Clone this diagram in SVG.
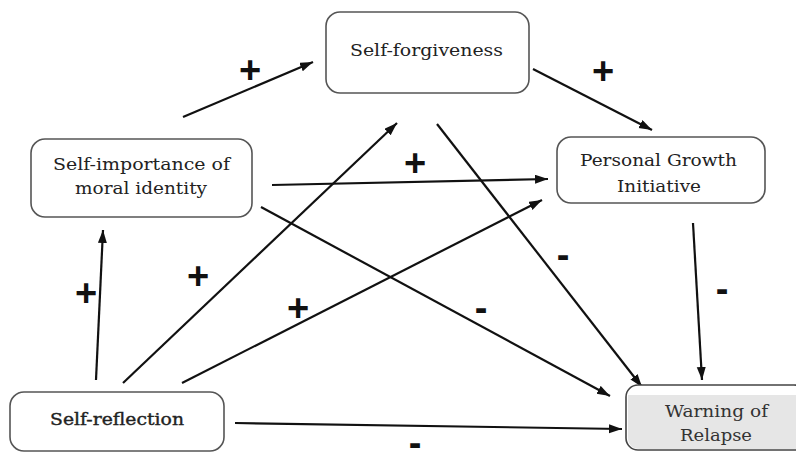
<svg xmlns="http://www.w3.org/2000/svg" width="796" height="452" viewBox="0 0 796 452">
<defs>
<marker id="ah" markerUnits="userSpaceOnUse" markerWidth="14" markerHeight="10" refX="13" refY="4.5" orient="auto">
<path d="M0,0 L13,4.5 L0,9 z" fill="#111"/>
</marker>
<style>
.box{fill:#fff;stroke:#555;stroke-width:1.6}
.t{font-family:"DejaVu Serif","Liberation Serif","Times New Roman",serif;font-size:17.5px;fill:#222;text-anchor:start}
.c{stroke:#111;stroke-width:2.2;fill:none;marker-end:url(#ah)}
.s{font-family:"Liberation Sans",Arial,sans-serif;font-weight:bold;font-size:38px;fill:#111;text-anchor:middle}
</style>
</defs>
<rect width="796" height="452" fill="#fff"/>
<g id="connectors">
<line class="c" x1="183" y1="117" x2="313" y2="62"/>
<line class="c" x1="533" y1="69" x2="652" y2="130"/>
<line class="c" x1="272" y1="185" x2="548" y2="179"/>
<line class="c" x1="123" y1="383" x2="397" y2="123"/>
<line class="c" x1="182" y1="383" x2="542" y2="200"/>
<line class="c" x1="96" y1="380" x2="103" y2="230"/>
<line class="c" x1="261" y1="207" x2="610" y2="396"/>
<line class="c" x1="437" y1="124" x2="642" y2="387"/>
<line class="c" x1="693" y1="223" x2="702" y2="380"/>
<line class="c" x1="235" y1="423" x2="622" y2="429"/>
</g>
<g id="signs">
<text class="s" x="250" y="83">+</text>
<text class="s" x="603" y="84">+</text>
<text class="s" x="415" y="176">+</text>
<text class="s" x="198" y="289">+</text>
<text class="s" x="298" y="321">+</text>
<text class="s" x="86" y="306">+</text>
<text class="s" x="563" y="268">-</text>
<text class="s" x="481" y="321">-</text>
<text class="s" x="722" y="302">-</text>
<text class="s" x="415" y="456">-</text>
</g>
<g id="self-forgiveness">
<rect class="box" x="326" y="12" width="203" height="81" rx="14"/>
<text class="t" x="350" y="56" textLength="153" lengthAdjust="spacingAndGlyphs">Self-forgiveness</text>
</g>
<g id="self-importance">
<rect class="box" x="31" y="139" width="221" height="78" rx="14"/>
<text class="t" x="53" y="170" textLength="177" lengthAdjust="spacingAndGlyphs">Self-importance of</text>
<text class="t" x="75" y="194" textLength="132" lengthAdjust="spacingAndGlyphs">moral identity</text>
</g>
<g id="personal-growth">
<rect class="box" x="557" y="137" width="208" height="66" rx="14"/>
<text class="t" x="580" y="166" textLength="157" lengthAdjust="spacingAndGlyphs">Personal Growth</text>
<text class="t" x="617" y="192" textLength="84" lengthAdjust="spacingAndGlyphs">Initiative</text>
</g>
<g id="self-reflection">
<rect class="box" x="10" y="392" width="214" height="59" rx="14"/>
<text class="t" x="50" y="425" textLength="134" lengthAdjust="spacingAndGlyphs" style="stroke:#222;stroke-width:0.4">Self-reflection</text>
</g>
<g id="warning">
<rect class="box" x="626" y="385" width="180" height="65" rx="12" style="stroke:#444"/>
<path d="M628,395 H796 V449 H640 Q628,449 628,437 Z" fill="#e6e6e6"/>
<text class="t" x="665" y="417" textLength="103" lengthAdjust="spacingAndGlyphs" style="fill:#333">Warning of</text>
<text class="t" x="680" y="441" textLength="72" lengthAdjust="spacingAndGlyphs" style="fill:#333">Relapse</text>
</g>
</svg>
